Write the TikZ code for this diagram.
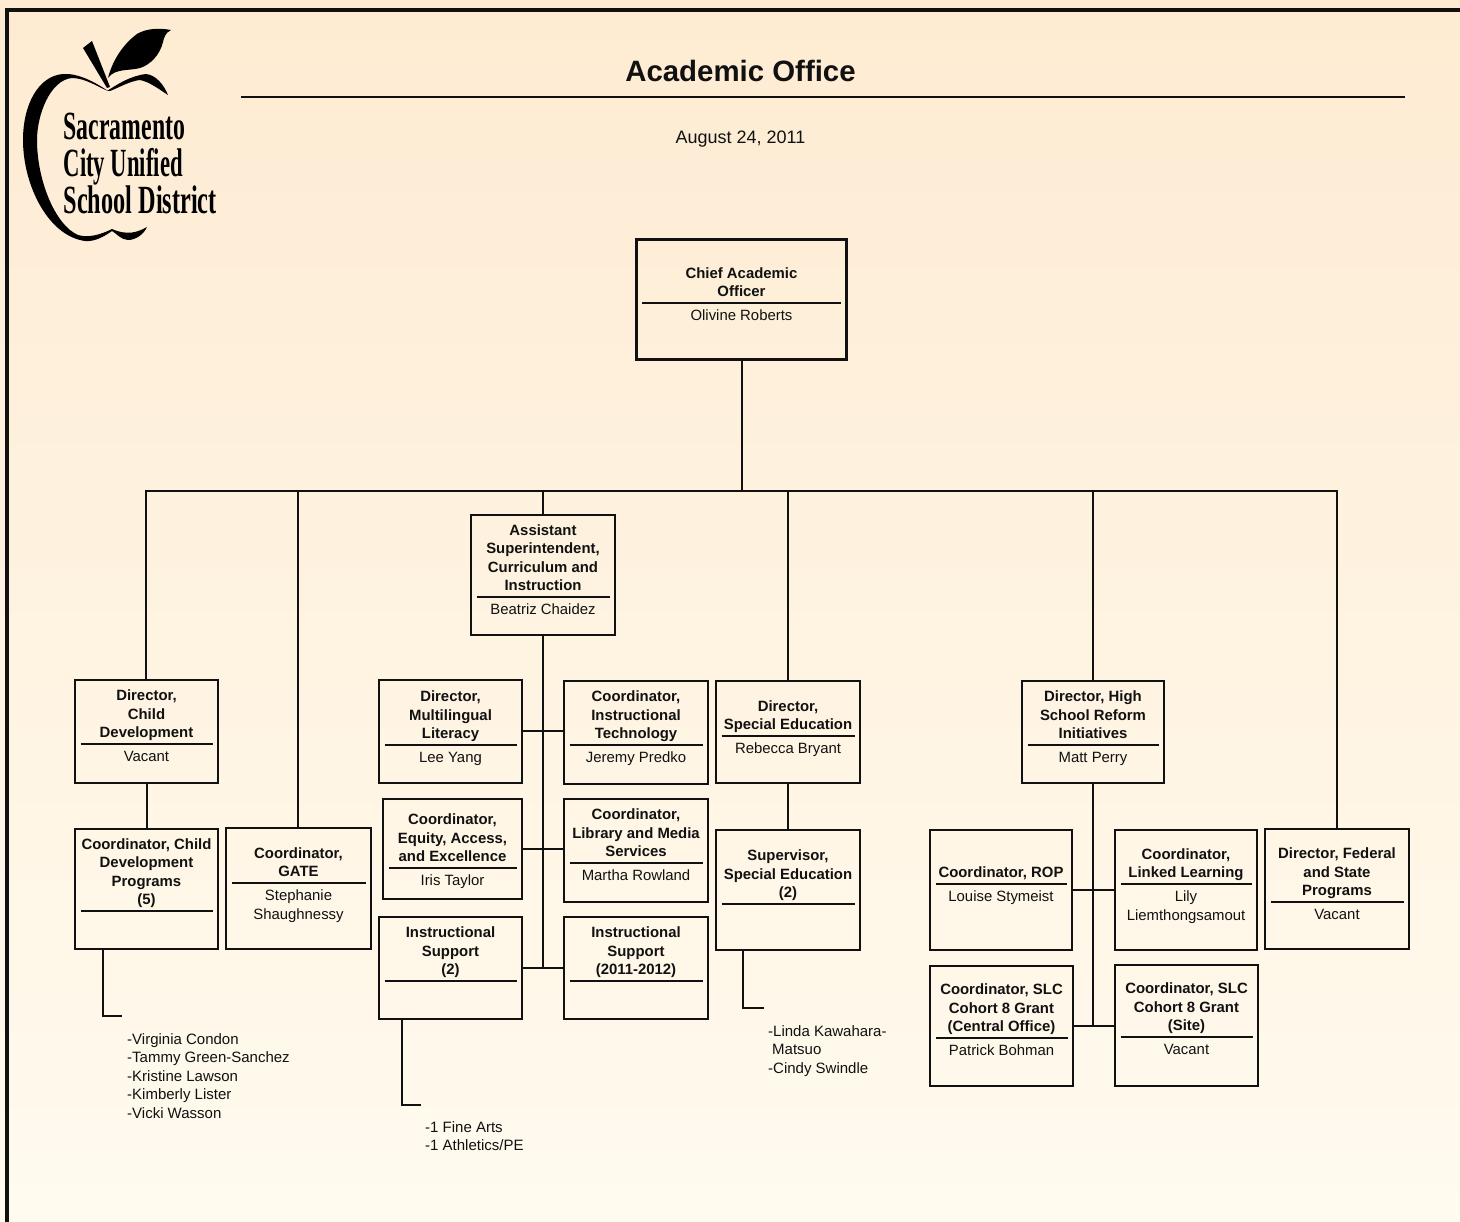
\documentclass[tikz,border=0pt]{standalone}
\usepackage{fontspec}
\usepackage{graphicx}
\setmainfont{Liberation Sans}
\newfontfamily\logofont{Liberation Serif}
\usetikzlibrary{fit}
\definecolor{bgtop}{HTML}{FEEBD2}
\definecolor{bgmid}{HTML}{FFF6E7}
\definecolor{bgbot}{HTML}{FFFBEF}
\definecolor{ink}{HTML}{111111}
\tikzset{
  orgbox/.style={draw=ink,line width=2pt,inner sep=0pt,outer sep=0pt,rectangle},
  chiefbox/.style={orgbox,line width=3.2pt},
  titletext/.style={font=\fontsize{14.9}{18.5}\selectfont\bfseries,align=center,inner sep=0pt,text=ink},
  persontext/.style={font=\fontsize{14.9}{18.5}\selectfont,align=center,inner sep=0pt,text=ink},
  listtext/.style={font=\fontsize{15}{18.5}\selectfont,align=left,inner sep=0pt,anchor=north west,text=ink},
  divider/.style={draw=ink,line width=2pt},
  conn/.style={draw=ink,line width=1.9pt},
  logotext/.style={font=\logofont\bfseries\fontsize{40}{41}\selectfont,inner sep=0pt,anchor=base west,text=black},
}
% name, x1, y1, x2, y2, rule y, title, person, box style
\newcommand{\orgunit}[9]{%
  \coordinate (#1-a) at (#2,#3);
  \coordinate (#1-b) at (#4,#5);
  \node[#9,fit=(#1-a)(#1-b)] (#1) {};
  \node[titletext,anchor=south] (#1-title) at ({(#2+#4)/2},{#6-0.5}) {#7\strut};
  \draw[divider] ({#2+5.5},#6) -- ({#4-5.5},#6);
  \if\relax\detokenize{#8}\relax\else
    \node[persontext,anchor=north] (#1-person) at ({(#2+#4)/2},{#6+4.5}) {\strut #8};
  \fi
}
\begin{document}
\begin{tikzpicture}[x=1pt,y=-1pt]
\useasboundingbox (0,0) rectangle (1460,1222);
\shade[top color=bgtop,middle color=bgmid,bottom color=bgbot] (0,0) rectangle (1460,1222);
% frame
\coordinate (frameTR) at (1460,10);
\coordinate (frameTL) at (7,10);
\coordinate (frameBL) at (7,1222);
\draw[ink,line width=3.2pt] (frameTR) -- (frameTL) -- (frameBL);
% logo
\fill[black] (108,91) .. controls (95,82) and (78,73) .. (63,74)
  .. controls (38,76) and (23,105) .. (23,140)
  .. controls (23,185) and (48,236) .. (85,241)
  .. controls (95,242) and (105,236) .. (112,231)
  .. controls (116,233) and (121,240) .. (128,240)
  .. controls (136,240) and (144,234) .. (147,227)
  .. controls (138,232) and (128,236) .. (112,229)
  .. controls (100,235) and (88,238) .. (78,235)
  .. controls (55,225) and (37,180) .. (37,140)
  .. controls (37,115) and (50,80) .. (72,78)
  .. controls (85,78) and (98,87) .. (108,91) -- cycle;
\fill[black] (107,91) .. controls (118,84) and (130,76) .. (146,74)
  .. controls (156,75) and (164,85) .. (168,95)
  .. controls (160,90) and (150,82) .. (140,80)
  .. controls (130,81) and (118,88) .. (110,91) -- cycle;
\fill[black] (83,48) -- (92,41) -- (110,87) -- (107,88) -- cycle;
\fill[black] (108,78) .. controls (112,62) and (122,45) .. (137,34)
  .. controls (147,28) and (160,28) .. (171,30)
  .. controls (165,33) and (164,38) .. (163,42)
  .. controls (160,55) and (150,65) .. (140,68)
  .. controls (130,71) and (115,68) .. (108,78) -- cycle;
\node[logotext] (logoA) at (63.5,139.5) {\scalebox{.594}[1]{Sacramento}};
\node[logotext] (logoB) at (63.5,176.5) {\scalebox{.567}[1]{City Unified}};
\node[logotext] (logoC) at (63.5,213.5) {\scalebox{.607}[1]{School District}};
% header
\node[font=\fontsize{29.4}{32}\selectfont\bfseries,inner sep=0pt,anchor=base,text=ink] (heading) at (740.5,82) {Academic Office};
\coordinate (headL) at (241,97);
\coordinate (headR) at (1405,97);
\draw[ink,line width=1.6pt] (headL) -- (headR);
\node[font=\fontsize{18}{20}\selectfont,inner sep=0pt,anchor=base,text=ink] (datetext) at (740.5,144) {August 24, 2011};
% boxes
\orgunit{cao}{636.5}{239.5}{846.5}{359.5}{303}{Chief Academic\\Officer}{Olivine Roberts}{chiefbox}
\orgunit{asst}{471}{515}{615}{635}{597}{Assistant\\Superintendent,\\Curriculum and\\Instruction}{Beatriz Chaidez}{orgbox}
\orgunit{dchild}{75}{680}{218}{783}{744}{Director,\\Child\\Development}{Vacant}{orgbox}
\orgunit{cchild}{75}{829}{218}{949}{911}{Coordinator, Child\\Development\\Programs\\(5)}{}{orgbox}
\orgunit{gate}{226}{828}{371}{949}{883}{Coordinator,\\GATE}{Stephanie\\Shaughnessy}{orgbox}
\orgunit{multi}{379}{680}{522}{783}{745}{Director,\\Multilingual\\Literacy}{Lee Yang}{orgbox}
\orgunit{equity}{383}{799}{522}{899}{868}{Coordinator,\\Equity, Access,\\and Excellence}{Iris Taylor}{orgbox}
\orgunit{instA}{379}{917}{522}{1019}{981}{Instructional\\Support\\(2)}{}{orgbox}
\orgunit{tech}{564}{681}{708}{784}{745}{Coordinator,\\Instructional\\Technology}{Jeremy Predko}{orgbox}
\orgunit{lib}{564}{799}{708}{902}{863}{Coordinator,\\Library and Media\\Services}{Martha Rowland}{orgbox}
\orgunit{instB}{564}{917}{708}{1019}{981}{Instructional\\Support\\(2011-2012)}{}{orgbox}
\orgunit{sped}{716}{681}{860}{783}{736}{Director,\\Special Education}{Rebecca Bryant}{orgbox}
\orgunit{super}{716}{830}{860}{950}{904}{Supervisor,\\Special Education\\(2)}{}{orgbox}
\orgunit{hs}{1022}{681}{1164}{783}{745}{Director, High\\School Reform\\Initiatives}{Matt Perry}{orgbox}
\orgunit{rop}{930}{830}{1072}{950}{884}{Coordinator, ROP}{Louise Stymeist}{orgbox}
\orgunit{linked}{1115}{830}{1257}{950}{884}{Coordinator,\\Linked Learning}{Lily\\Liemthongsamout}{orgbox}
\orgunit{fed}{1265}{829}{1409}{949}{902}{Director, Federal\\and State\\Programs}{Vacant}{orgbox}
\orgunit{slcc}{930}{966}{1073}{1086}{1038}{Coordinator, SLC\\Cohort 8 Grant\\(Central Office)}{Patrick Bohman}{orgbox}
\orgunit{slcs}{1115}{965}{1258}{1086}{1037}{Coordinator, SLC\\Cohort 8 Grant\\(Site)}{Vacant}{orgbox}
% bus and drops
\coordinate (bus) at (742,491);
\draw[conn,line cap=rect] ([xshift=-.5pt]dchild.north |- bus) -- (fed.north |- bus);
\draw[conn] ([xshift=.5pt]cao.south) -- ([xshift=.5pt]cao.south |- bus);
\draw[conn] ([xshift=-.5pt]dchild.north) -- ([xshift=-.5pt]dchild.north |- bus);
\draw[conn] ([xshift=-.5pt]gate.north) -- ([xshift=-.5pt]gate.north |- bus);
\foreach \n in {asst,sped,hs,fed}
  \draw[conn] (\n.north) -- (\n.north |- bus);
% middle column
\draw[conn] (asst.south) -- (asst.south |- instA.east);
\draw[conn] ([yshift=.5pt]multi.east) -- ([yshift=.5pt]multi.east -| tech.west);
\draw[conn] (equity.east) -- (equity.east -| lib.west);
\draw[conn] (instA.east) -- (instA.east -| instB.west);
\draw[conn] ([xshift=.5pt]dchild.south) -- ([xshift=.5pt]cchild.north);
\draw[conn] (sped.south) -- (super.north);
% high school column
\draw[conn] (hs.south) -- (hs.south |- slcc.east);
\draw[conn] (rop.east) -- (rop.east -| linked.west);
\draw[conn] (slcc.east) -- (slcc.east -| slcs.west);
% staff lists
\coordinate (tapA) at (103,950);
\coordinate (endA) at (122,1016);
\draw[conn] (tapA) |- (endA);
\node[listtext] (listA) at (127,1033) {-Virginia Condon\\-Tammy Green-Sanchez\\-Kristine Lawson\\-Kimberly Lister\\-Vicki Wasson};
\coordinate (tapB) at (402,1019);
\coordinate (endB) at (421,1105);
\draw[conn] (tapB) |- (endB);
\node[listtext] (listB) at (425,1121) {-1 Fine Arts\\-1 Athletics/PE};
\coordinate (tapC) at (743,950);
\coordinate (endC) at (764,1008);
\draw[conn] (tapC) |- (endC);
\node[listtext] (listC) at (768,1025) {-Linda Kawahara-\\\hspace*{4pt}Matsuo\\-Cindy Swindle};
\end{tikzpicture}
\end{document}
